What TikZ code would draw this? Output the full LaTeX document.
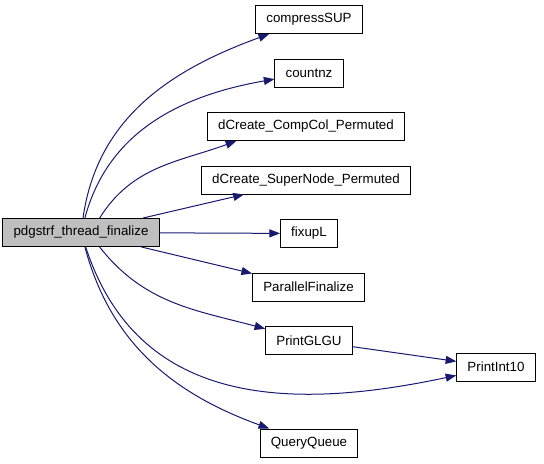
\documentclass[tikz,border=0pt]{standalone}
\usepackage{fontspec}
\setmainfont{Liberation Sans}
\usetikzlibrary{arrows.meta}
\definecolor{edgeblue}{HTML}{191970}
\definecolor{mainfill}{HTML}{BFBFBF}
\tikzset{
    fn/.style={draw=black, line width=0.75pt, rectangle, inner xsep=8pt,
               minimum height=21pt, font=\fontsize{10}{12}\selectfont},
    call/.style={draw=edgeblue, line width=0.75pt,
                 -{Triangle[length=8pt,width=6pt]}, fill=none}
}
\begin{document}
\begin{tikzpicture}[x=0.75pt,y=0.75pt]
    \pgfmathsetmacro{\colX}{309}     % colonne des fonctions appelees
    \pgfmathsetmacro{\rowH}{53.5}    % pas vertical

    \useasboundingbox (0,0) rectangle (544,-464);

    % Fonction appelante
    \node[fn, fill=mainfill] (finalize) at (81,-232.5) {pdgstrf\_thread\_finalize};

    % Fonctions appelees
    \node[fn] (compressSUP) at (\colX,-19.5) {compressSUP};
    \node[fn] (countnz) at (\colX,-19.5-\rowH) {countnz};
    \node[fn] (compCol) at (306,-19.5-2*\rowH) {dCreate\_CompCol\_Permuted};
    \node[fn] (superNode) at (306,-19.5-3*\rowH) {dCreate\_SuperNode\_Permuted};
    \node[fn] (fixupL) at (\colX,-19.5-4*\rowH) {fixupL};
    \node[fn] (parFinalize) at (308.5,-19.5-5*\rowH) {ParallelFinalize};
    \node[fn] (printGLGU) at (\colX,-19.5-6*\rowH) {PrintGLGU};
    \node[fn] (printInt) at (496,-367) {PrintInt10};
    \node[fn] (queryQueue) at (\colX,-443) {QueryQueue};

    % Appels
    \draw[call] (finalize) to[out=82,in=200] (compressSUP);
    \draw[call] (finalize) to[out=75,in=190] (countnz);
    \draw[call] ([xshift=14pt]finalize.north) to[out=58,in=200] ([xshift=22pt]compCol.south west);
    \draw[call] (finalize) -- (superNode);
    \draw[call] (finalize) -- (fixupL);
    \draw[call] (finalize) -- (parFinalize);
    \draw[call] ([xshift=14pt]finalize.south) to[out=-52,in=165] (printGLGU);
    \draw[call] (finalize) to[out=-72,in=192,looseness=1.1] (printInt);
    \draw[call] (finalize) to[out=-75,in=160] (queryQueue);
    \draw[call] (printGLGU) -- (printInt);
\end{tikzpicture}
\end{document}
